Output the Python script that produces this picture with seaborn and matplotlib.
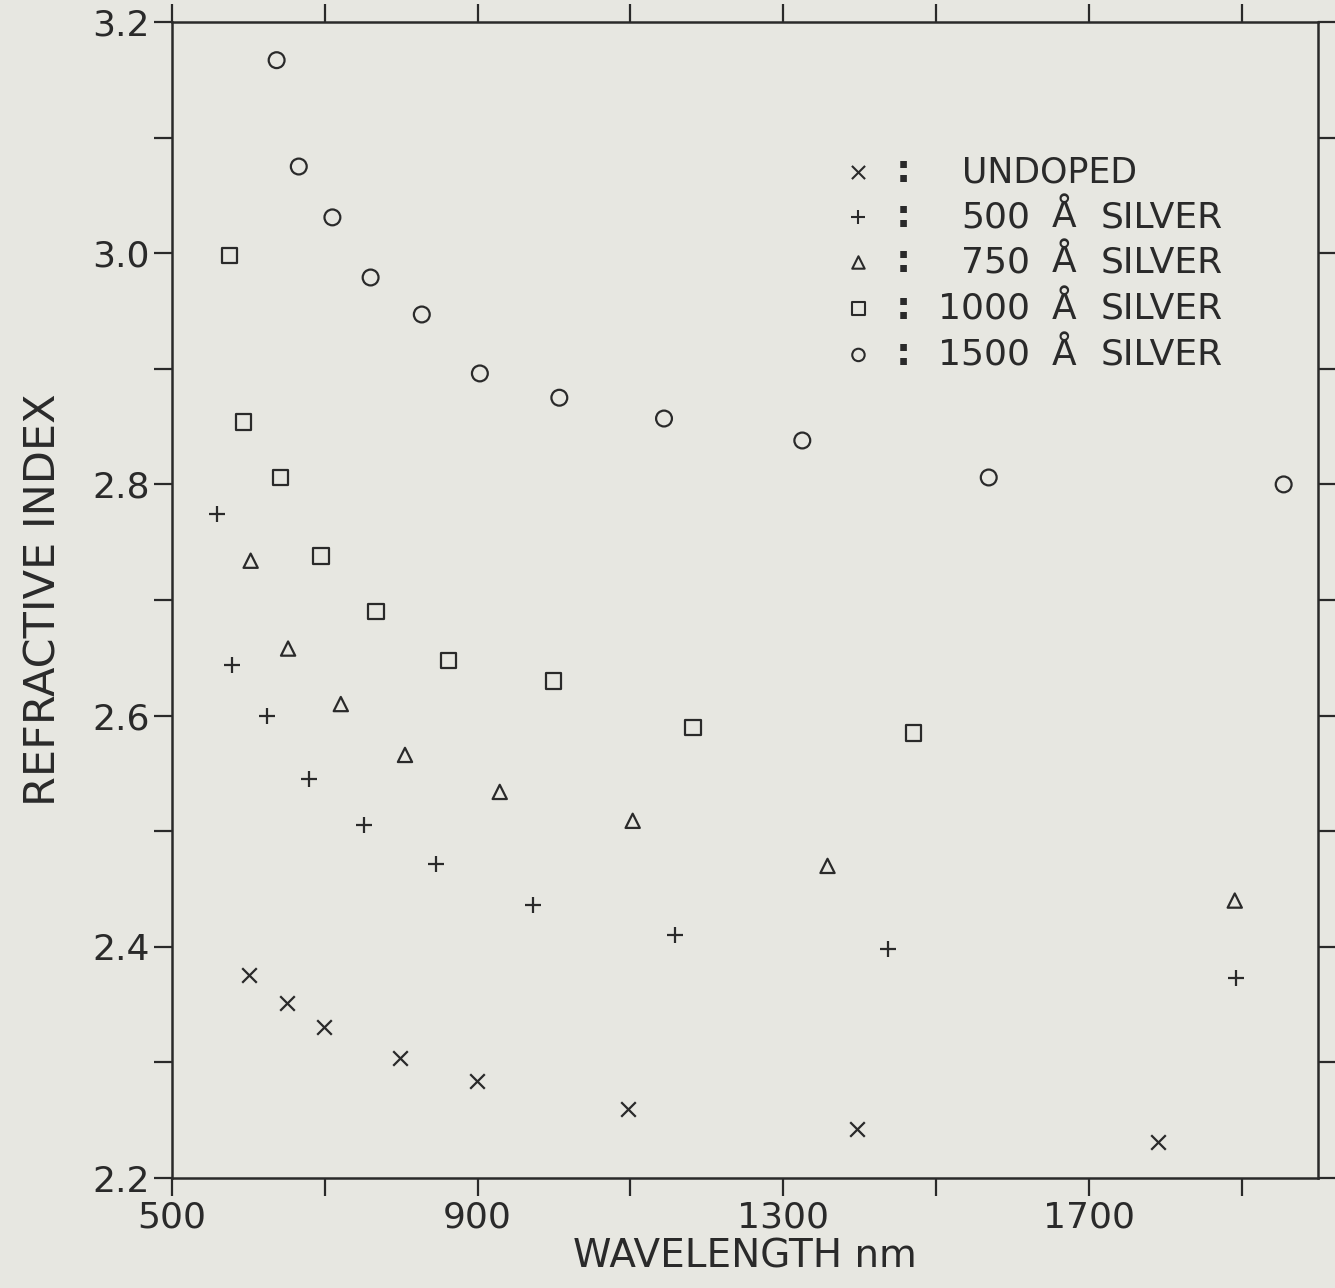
import numpy as np
import matplotlib.pyplot as plt
import seaborn as sns
import pandas as pd

# values
wl_undoped = [601, 650, 699, 798, 899, 1097, 1397, 1790]
n_undoped = [2.376, 2.351, 2.331, 2.304, 2.284, 2.260, 2.242, 2.231]

wl_500 = [559, 578, 625, 680, 751, 845, 973, 1159, 1437, 1892]
n_500 = [2.774, 2.644, 2.600, 2.545, 2.505, 2.472, 2.436, 2.410, 2.398, 2.373]

wl_750 = [603, 652, 721, 805, 929, 1103, 1358, 1891]
n_750 = [2.734, 2.658, 2.610, 2.566, 2.534, 2.509, 2.470, 2.440]

wl_1000 = [575, 594, 642, 695, 767, 862, 999, 1182, 1471]
n_1000 = [2.998, 2.854, 2.806, 2.738, 2.690, 2.648, 2.630, 2.590, 2.585]

wl_1500 = [637, 666, 710, 760, 827, 903, 1007, 1144, 1325, 1569, 1955]
n_1500 = [3.167, 3.075, 3.031, 2.979, 2.947, 2.896, 2.875, 2.857, 2.838, 2.806, 2.800]

numbers = ["", "500", "750", "1000", "1500"]
names = ["UNDOPED", "SILVER", "SILVER", "SILVER", "SILVER"]

series = [wl_undoped, wl_500, wl_750, wl_1000, wl_1500]
values = [n_undoped, n_500, n_750, n_1000, n_1500]
markers = ["x", "+", "^", "s", "o"]
sizes = [110, 130, 105, 120, 130]

paper = "#e7e7e1"
ink = "#2a2a2a"

sns.set_style("ticks")
plt.rcParams["font.family"] = ["DejaVu Sans"]

fig = plt.figure(figsize=(13.35, 12.88), dpi=100)
fig.patch.set_facecolor(paper)
ax = fig.add_axes([0.1288, 0.0854, 0.8585, 0.8975])
ax.set_facecolor(paper)

for wl, n, m, s in zip(series, values, markers, sizes):
    df = pd.DataFrame({"wl": wl, "n": n})
    if m in ("x", "+"):
        sns.scatterplot(data=df, x="wl", y="n", marker=m, s=s, color=ink,
                        linewidth=1.6, ax=ax)
    else:
        sns.scatterplot(data=df, x="wl", y="n", marker=m, s=s,
                        facecolor="none", edgecolor=ink, linewidth=1.6, ax=ax)

ax.set_xlim(500, 2000)
ax.set_ylim(2.2, 3.2)
ax.set_xticks(np.arange(500, 2000, 200))
ax.set_xticklabels(["500", "", "900", "", "1300", "", "1700", ""])
yt = np.round(np.arange(2.2, 3.21, 0.1), 1)
ax.set_yticks(yt)
ax.set_yticklabels([f"{v:.1f}" if i % 2 == 0 else "" for i, v in enumerate(yt)])

ax.tick_params(which="both", direction="out", length=13, width=1.6,
               color=ink, labelcolor=ink, labelsize=26, pad=3,
               top=True, right=True, labeltop=False, labelright=False)
for sp in ax.spines.values():
    sp.set_color(ink)
    sp.set_linewidth(1.8)

ax.set_xlabel("WAVELENGTH nm", fontsize=28, color=ink, labelpad=2)
ax.set_ylabel("REFRACTIVE INDEX", fontsize=31, color=ink, labelpad=20)

# hand-drawn style key in the upper right
rows = [0.870, 0.831, 0.792, 0.752, 0.712]
for y, m, num, name in zip(rows, markers, numbers, names):
    if m in ("x", "+"):
        ax.scatter([0.599], [y], transform=ax.transAxes, marker=m, s=90,
                   color=ink, linewidth=1.5)
    else:
        ax.scatter([0.599], [y], transform=ax.transAxes, marker=m, s=80,
                   facecolor="none", edgecolor=ink, linewidth=1.5)
    ax.text(0.638, y, ":", transform=ax.transAxes, fontsize=27,
            fontweight="bold", color=ink, ha="center", va="center")
    if num:
        ax.text(0.749, y, num, transform=ax.transAxes, fontsize=26,
                color=ink, ha="right", va="center")
        ax.text(0.778, y, "Å", transform=ax.transAxes, fontsize=26,
                color=ink, ha="center", va="center")
        ax.text(0.810, y, name, transform=ax.transAxes, fontsize=26,
                color=ink, ha="left", va="center")
    else:
        ax.text(0.689, y, name, transform=ax.transAxes, fontsize=25,
                color=ink, ha="left", va="center")

plt.savefig("out.png", dpi=100, facecolor=paper)
